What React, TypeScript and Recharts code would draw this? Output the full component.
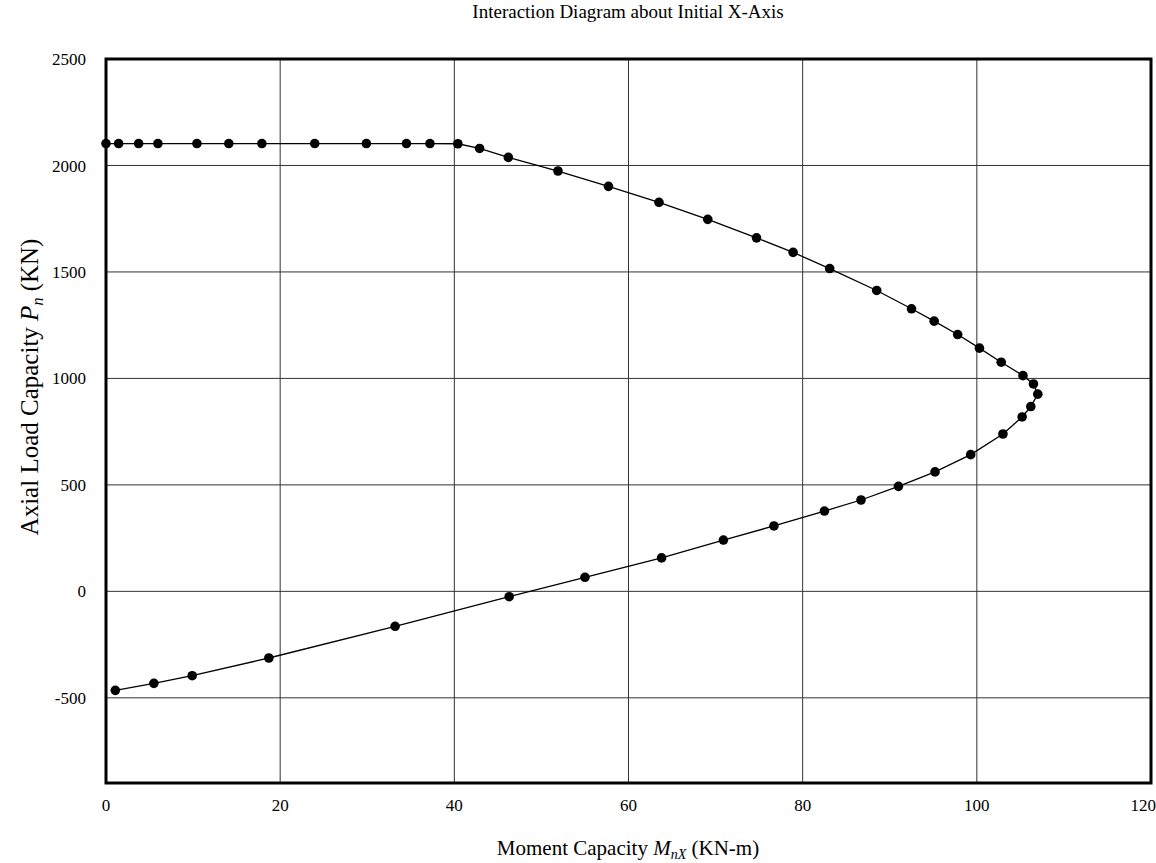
import React from "react";
import {
  ScatterChart,
  Scatter,
  XAxis,
  YAxis,
  CartesianGrid,
  ReferenceArea,
  Label,
} from "recharts";

// Moment capacity M_nX (KN-m) and axial load P_n (KN) in order
const momentX = [
  0, 1.45, 3.75, 5.96, 10.44, 14.1, 17.9, 23.97, 29.9, 34.5, 37.2, 40.4,
  42.9, 46.2, 51.9, 57.7, 63.5, 69.1, 74.7, 78.9, 83.1, 88.5, 92.5, 95.1,
  97.8, 100.3, 102.8, 105.3, 106.5, 107.0, 106.2, 105.2, 103.0, 99.3, 95.2,
  91.0, 86.7, 82.5, 76.7, 70.9, 63.8, 55.0, 46.3, 33.2, 18.7, 9.9, 5.5, 1.07,
];
const axialP = [
  2103, 2103, 2103, 2103, 2103, 2103, 2103, 2103, 2103, 2103, 2103, 2102,
  2080, 2038, 1974, 1902, 1827, 1747, 1660, 1592, 1516, 1413, 1327, 1269,
  1206, 1142, 1076, 1013, 974, 926, 868, 819, 739, 642, 561,
  493, 429, 377, 307, 241, 157, 66, -25, -164, -313, -396, -432, -465,
];
const xTicks = [0, 20, 40, 60, 80, 100, 120];
const yTicks = [-500, 0, 500, 1000, 1500, 2000, 2500];

const serif = "'Liberation Serif', 'Times New Roman', serif";

const points = momentX.map((m, i) => ({ m, p: axialP[i] }));

function Dot(props: any) {
  return <circle cx={props.cx} cy={props.cy} r={4.8} fill="#000" />;
}

function Titles() {
  return (
    <g fontFamily={serif} fill="#000">
      <text x={628} y={18} textAnchor="middle" fontSize={19}>
        Interaction Diagram about Initial X-Axis
      </text>
      <text x={628} y={855} textAnchor="middle" fontSize={21}>
        Moment Capacity <tspan fontStyle="italic">M</tspan>
        <tspan fontStyle="italic" fontSize={14} dy={4}>nX</tspan>
        <tspan dy={-4}> (KN-m)</tspan>
      </text>
      <text
        transform="translate(38,387) rotate(-90)"
        textAnchor="middle"
        fontSize={25}
      >
        Axial Load Capacity <tspan fontStyle="italic">P</tspan>
        <tspan fontStyle="italic" fontSize={16} dy={5}>n</tspan>
        <tspan dy={-5}> (KN)</tspan>
      </text>
    </g>
  );
}

export default function App() {
  return (
    <div style={{ width: 1156, height: 863, background: "#fff" }}>
      <style>{"body{margin:0}"}</style>
      <ScatterChart
        width={1156}
        height={863}
        margin={{ top: 59, right: 5, bottom: 0, left: 0 }}
      >
        <CartesianGrid stroke="#333" strokeWidth={1} />
        <XAxis
          type="number"
          dataKey="m"
          domain={[0, 120]}
          ticks={xTicks}
          height={80}
          axisLine={false}
          tickLine={false}
          tickSize={0}
          tickMargin={16}
          tick={{ fill: "#000", fontSize: 17, fontFamily: serif }}
        >
          <Label content={() => <Titles />} />
        </XAxis>
        <YAxis
          type="number"
          dataKey="p"
          domain={[-900, 2500]}
          ticks={yTicks}
          width={106}
          axisLine={false}
          tickLine={false}
          tickSize={0}
          tickMargin={20}
          tick={{ fill: "#000", fontSize: 17, fontFamily: serif }}
        />
        <ReferenceArea
          x1={0}
          x2={120}
          y1={-900}
          y2={2500}
          fill="none"
          fillOpacity={0}
          stroke="#000"
          strokeWidth={3}
        />
        <Scatter
          data={points}
          line={{ stroke: "#000", strokeWidth: 1.3 }}
          lineType="joint"
          shape={<Dot />}
          fill="#000"
          isAnimationActive={false}
        />
      </ScatterChart>
    </div>
  );
}
